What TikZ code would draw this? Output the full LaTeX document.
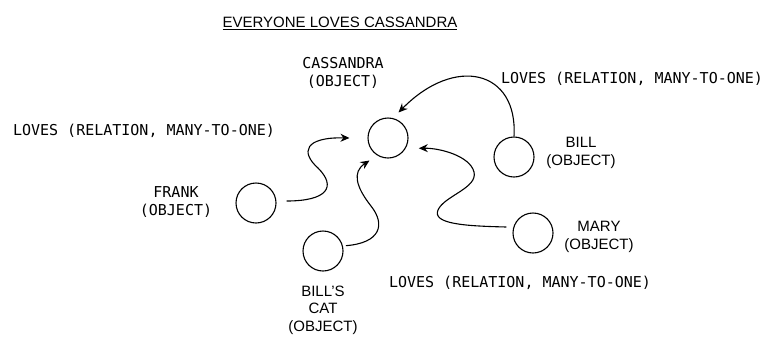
\documentclass[tikz,border=0pt]{standalone}
\usepackage{fontspec}
\setmainfont{Liberation Sans}
\newfontfamily\codefont{DejaVu Sans Mono}
\usetikzlibrary{arrows.meta}

\begin{document}
\begin{tikzpicture}
    [
        x = 1pt, y = -1pt,
        object/.style = {draw, circle, line width = 1.1pt, minimum size = 40pt, inner sep = 0pt},
        sanstext/.style = {inner sep = 0pt, align = center, font = \fontsize{15}{17.5}\selectfont},
        codetext/.style = {inner sep = 0pt, align = center, font = \codefont\fontsize{15}{17.5}\selectfont},
        loves/.style = {line width = 1.1pt, -{Stealth[length = 9pt, width = 8pt]}}
    ]

        \useasboundingbox (0,0) rectangle (775,349);

        \node[sanstext] (title) at (340,23) {\underline{EVERYONE LOVES CASSANDRA}};

        \node[object] (cassandra) at (388,138) {};
        \node[object] (frank) at (256,203) {};
        \node[object] (cat) at (323,251) {};
        \node[object] (bill) at (514,157) {};
        \node[object] (mary) at (533,233) {};

        \node[codetext] (cassandralabel) at (343,73) {CASSANDRA\\(OBJECT)};
        \node[codetext] (franklabel) at (176,202) {FRANK\\(OBJECT)};
        \node[sanstext] (billlabel) at (581,153) {BILL\\(OBJECT)};
        \node[sanstext] (marylabel) at (599,237) {MARY\\(OBJECT)};
        \node[sanstext] (catlabel) at (323,310) {BILL'S\\CAT\\(OBJECT)};

        \node[codetext] (lovesleft) at (144,131) {LOVES (RELATION, MANY-TO-ONE)};
        \node[codetext] (lovesright) at (632,79) {LOVES (RELATION, MANY-TO-ONE)};
        \node[codetext] (lovesbottom) at (520,283) {LOVES (RELATION, MANY-TO-ONE)};

        \draw[loves] ([shift = {(10,-2)}]frank.east)
            .. controls (327,201) and (337,187) .. (318,168)
            .. controls (300,152) and (305,137) .. ([xshift = -18pt]cassandra.west);
        \draw[loves] ([xshift = 3pt]cat.15)
            .. controls (380,243) and (386,225) .. (371,206)
            .. controls (356,187) and (352,172) .. ([shift = {(-4,8)}]cassandra.225);
        \draw[loves] (bill.north)
            .. controls (518,70) and (455,55) .. ([shift = {(-4,-11)}]cassandra.45);
        \draw[loves] ([shift = {(-6,-6)}]mary.west)
            .. controls (465,226) and (432,224) .. (438,210)
            .. controls (444,196) and (478,188) .. (474,172)
            .. controls (470,156) and (440,148) .. ([xshift = 13pt]cassandra.-30);
    \end{tikzpicture}
\end{document}
